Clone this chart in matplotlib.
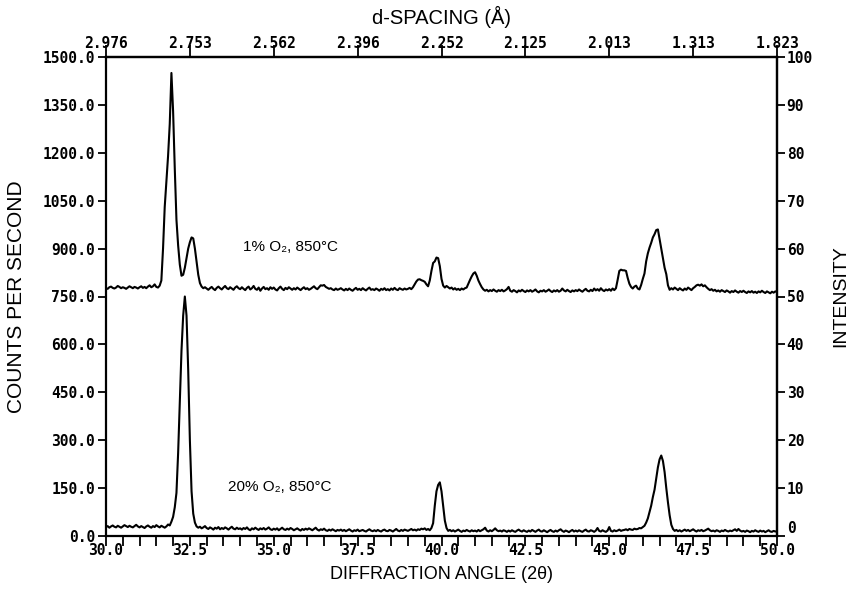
import numpy as np
import matplotlib
matplotlib.use("Agg")
import matplotlib.pyplot as plt
from matplotlib.ticker import MultipleLocator

# Diffraction angle grid (degrees 2-theta), 0.05 deg steps from 30 to 50
two_theta = np.round(np.linspace(30.0, 50.0, 401), 2)

# Counts per second, sample annealed in 1% O2 at 850 C (one row per degree)
counts_1pct_o2 = [
    776, 774, 779, 781, 777, 775, 778, 783, 780, 776, 779, 777, 774, 778, 782, 779, 776, 780, 778, 775,      # 30
    779, 782, 777, 780, 776, 781, 785, 779, 782, 788, 780, 778, 784, 800, 900, 1030, 1110, 1190, 1290, 1450,  # 31
    1330, 1150, 990, 910, 850, 815, 818, 840, 870, 900, 920, 935, 932, 900, 858, 818, 792, 781, 776, 779,   # 32
    775, 771, 776, 780, 774, 770, 777, 781, 776, 772, 778, 783, 776, 773, 779, 775, 771, 778, 782, 776,      # 33
    773, 779, 774, 770, 777, 781, 772, 776, 783, 774, 771, 778, 768, 775, 780, 773, 776, 771, 779, 774,      # 34
    778, 772, 769, 776, 781, 774, 770, 777, 773, 779, 775, 771, 776, 772, 778, 774, 770, 775, 779, 773,      # 35
    776, 771, 774, 778, 782, 776, 773, 779, 785, 784, 786, 780, 777, 774, 776, 772, 770, 775, 771, 773,      # 36
    776, 772, 769, 774, 770, 775, 771, 768, 773, 777, 771, 774, 770, 776, 772, 769, 774, 778, 771, 773,      # 37
    770, 775, 772, 768, 774, 771, 776, 770, 773, 769, 775, 771, 777, 772, 770, 776, 773, 771, 775, 772,      # 38
    774, 777, 773, 779, 788, 797, 803, 804, 801, 799, 796, 788, 782, 800, 830, 855, 860, 872, 870, 845,      # 39
    805, 784, 778, 783, 779, 775, 778, 772, 776, 771, 774, 770, 775, 772, 776, 778, 790, 802, 813, 822,      # 40
    826, 815, 800, 789, 779, 772, 768, 771, 766, 770, 767, 772, 768, 765, 770, 767, 771, 766, 769, 773,      # 41
    780, 768, 765, 770, 767, 763, 769, 766, 771, 767, 764, 769, 766, 770, 765, 768, 772, 766, 763, 768,      # 42
    766, 770, 765, 768, 772, 767, 764, 769, 766, 770, 765, 768, 775, 769, 766, 771, 767, 764, 769, 766,      # 43
    770, 767, 772, 768, 765, 770, 774, 768, 766, 771, 767, 775, 769, 773, 768, 776, 770, 767, 772, 769,      # 44
    773, 768, 775, 770, 776, 802, 830, 834, 832, 832, 830, 808, 790, 780, 775, 781, 784, 775, 772, 786,      # 45
    805, 822, 860, 885, 903, 918, 935, 945, 958, 960, 930, 900, 870, 840, 820, 785, 771, 776, 772, 778,      # 46
    774, 770, 776, 772, 769, 775, 771, 778, 774, 770, 776, 780, 785, 787, 784, 788, 782, 785, 779, 774,      # 47
    770, 773, 768, 771, 766, 769, 765, 770, 767, 764, 769, 766, 762, 767, 764, 769, 765, 762, 767, 764,      # 48
    768, 764, 761, 766, 763, 767, 762, 765, 761, 766, 763, 768, 764, 761, 766, 763, 760, 765, 762, 766,      # 49
    764,                                                                                                      # 50
]

# Counts per second, sample annealed in 20% O2 at 850 C
counts_20pct_o2 = [
    28, 31, 26, 30, 33, 29, 27, 32, 29, 26, 30, 34, 31, 28, 32, 29, 27, 31, 35, 30,            # 30
    27, 31, 28, 25, 30, 33, 29, 26, 31, 28, 34, 30, 27, 32, 29, 26, 30, 36, 33, 45,            # 31
    60, 90, 135, 260, 420, 580, 690, 750, 690, 520, 300, 140, 70, 42, 30, 26, 29, 24, 27, 31,  # 32
    25, 22, 27, 24, 20, 26, 23, 28, 21, 25, 22, 27, 24, 20, 25, 29, 23, 21, 26, 22,            # 33
    24, 20, 25, 22, 27, 21, 18, 24, 21, 26, 22, 19, 24, 21, 25, 20, 23, 27, 21, 19,            # 34
    23, 20, 24, 18, 22, 26, 21, 19, 23, 20, 25, 22, 18, 21, 24, 20, 17, 22, 19, 23,            # 35
    20, 24, 21, 18, 22, 26, 20, 17, 21, 19, 23, 18, 16, 20, 17, 21, 18, 15, 19, 17,            # 36
    20, 16, 19, 15, 18, 21, 17, 14, 18, 16, 20, 15, 17, 19, 16, 14, 18, 21, 17, 15,            # 37
    18, 15, 19, 16, 14, 18, 20, 16, 15, 19, 17, 14, 18, 22, 17, 15, 19, 16, 20, 18,            # 38
    16, 19, 22, 18, 20, 17, 21, 19, 23, 21, 24, 19, 22, 18, 25, 40, 95, 140, 160, 168,         # 39
    140, 95, 48, 25, 16, 19, 15, 18, 14, 17, 20, 16, 13, 17, 15, 19, 16, 14, 18, 15,           # 40
    17, 14, 19, 15, 18, 21, 26, 17, 14, 18, 15, 19, 24, 18, 15, 17, 14, 18, 16, 13,            # 41
    17, 14, 18, 15, 13, 17, 20, 16, 14, 18, 15, 13, 17, 14, 19, 16, 13, 17, 20, 15,            # 42
    14, 18, 15, 12, 16, 19, 15, 13, 17, 14, 18, 21, 16, 13, 17, 15, 12, 16, 19, 14,            # 43
    17, 14, 18, 15, 13, 17, 20, 15, 14, 18, 16, 13, 17, 25, 16, 14, 18, 15, 13, 17,            # 44
    28, 16, 14, 18, 15, 17, 20, 16, 18, 19, 21, 18, 22, 20, 19, 23, 21, 22, 25, 24,            # 45
    28, 32, 42, 55, 75, 95, 122, 145, 180, 215, 240, 252, 235, 200, 150, 105, 65, 35, 22, 16,  # 46
    19, 15, 18, 14, 17, 20, 16, 19, 15, 18, 21, 17, 14, 18, 16, 19, 15, 17, 20, 23,            # 47
    18, 15, 17, 14, 18, 16, 13, 17, 15, 19, 16, 14, 17, 15, 18, 21, 16, 22, 17, 14,            # 48
    16, 13, 17, 15, 12, 16, 14, 18, 15, 13, 17, 14, 16, 12, 15, 18, 14, 13, 16, 14,            # 49
    15,                                                                                        # 50
]

angle_ticks = [30.0, 32.5, 35.0, 37.5, 40.0, 42.5, 45.0, 47.5, 50.0]
angle_labels = ["30.0", "32.5", "35.0", "37.5", "40.0", "42.5", "45.0", "47.5", "50.0"]
d_spacing_labels = ["2.976", "2.753", "2.562", "2.396", "2.252", "2.125", "2.013", "1.313", "1.823"]
count_ticks = [0, 150, 300, 450, 600, 750, 900, 1050, 1200, 1350, 1500]
count_labels = ["0.0", "150.0", "300.0", "450.0", "600.0", "750.0", "900.0",
                "1050.0", "1200.0", "1350.0", "1500.0"]
intensity_ticks = [0, 10, 20, 30, 40, 50, 60, 70, 80, 90, 100]
sample_labels = ["1% O\u2082, 850\u00b0C", "20% O\u2082, 850\u00b0C"]

TICK_FONT = dict(family="DejaVu Sans Mono", weight="bold", size=10.5)
SANS = ["Liberation Sans", "DejaVu Sans"]
NOTE_FONT = dict(family=SANS, size=11)

W, H = 851, 597
fig = plt.figure(figsize=(W / 100, H / 100), dpi=100)
left, right, top, bottom = 106, 777, 57, 536
ax = fig.add_axes([left / W, 1 - bottom / H, (right - left) / W, (bottom - top) / H])

ax.plot(two_theta, counts_1pct_o2, color="black", lw=1.5, solid_joinstyle="round")
ax.plot(two_theta, counts_20pct_o2, color="black", lw=1.5, solid_joinstyle="round")

ax.set_xlim(30.0, 50.0)
ax.set_ylim(0, 1500)
for s in ax.spines.values():
    s.set_linewidth(1.6)

ax.set_xticks(angle_ticks, angle_labels, fontdict=TICK_FONT)
ax.xaxis.set_minor_locator(MultipleLocator(0.5))
ax.set_yticks(count_ticks, count_labels, fontdict=TICK_FONT)
ax.tick_params(axis="x", which="both", direction="out", length=7, width=1.3, pad=-2)
ax.tick_params(axis="y", which="both", direction="out", length=6, width=1.3, pad=2)

# d-spacing scale along the top edge
top_ax = ax.secondary_xaxis("top")
top_ax.set_xticks(angle_ticks, d_spacing_labels, fontdict=TICK_FONT)
top_ax.tick_params(direction="out", length=9, width=1.3, pad=-5)
top_ax.spines["top"].set_linewidth(1.6)
top_ax.set_xlabel("d-SPACING (\u00c5)", labelpad=9, family=SANS, size=14.5)

# relative intensity scale along the right edge
right_ax = ax.secondary_yaxis("right", functions=(lambda c: c / 15.0, lambda i: i * 15.0))
right_ax.set_yticks(intensity_ticks, [str(v) for v in intensity_ticks], fontdict=TICK_FONT)
right_ax.tick_params(direction="out", length=6, width=1.3, pad=1)
right_ax.spines["right"].set_linewidth(1.6)
right_ax.set_ylabel("INTENSITY", labelpad=14, family=SANS, size=14)
# lift the lowest intensity label clear of the angle label beneath it
right_ax.get_yticklabels()[0].set_verticalalignment("bottom")

ax.set_xlabel("DIFFRACTION ANGLE (2\u03b8)", labelpad=6, family=SANS, size=13)
ax.set_ylabel("COUNTS PER SECOND", labelpad=12, family=SANS, size=15)

ax.text(34.08, 904, sample_labels[0], ha="left", va="center", **NOTE_FONT)
ax.text(33.64, 153, sample_labels[1], ha="left", va="center", **NOTE_FONT)

fig.savefig("out.png", dpi=100)
